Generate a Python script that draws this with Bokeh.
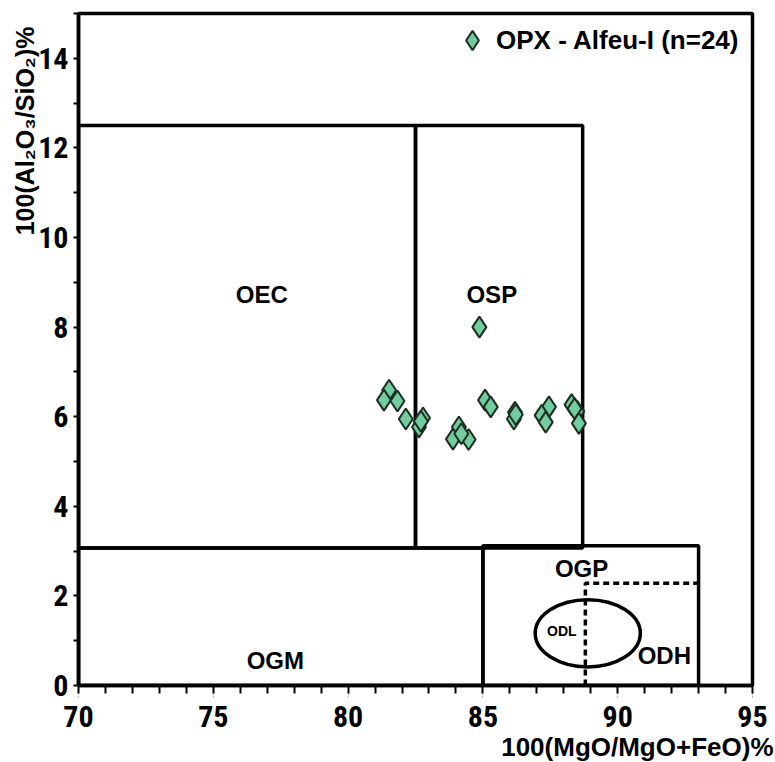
from bokeh.plotting import figure
from bokeh.models import (SingleIntervalTicker, Label, Legend, LegendItem, Range1d, Title)
from bokeh.embed import file_html
from bokeh.resources import INLINE

# ---- data ----
opx_mg = [81.52, 81.33, 81.83, 82.14, 82.78, 82.63, 82.70, 84.11, 83.89, 84.47,
          84.20, 84.87, 85.08, 85.29, 86.19, 86.15, 86.22, 87.45, 87.18, 87.33,
          88.29, 88.50, 88.40, 88.56]
opx_al = [6.59, 6.37, 6.35, 5.95, 5.97, 5.77, 5.90, 5.77, 5.50, 5.49,
          5.62, 8.00, 6.37, 6.22, 6.10, 5.95, 6.05, 6.22, 6.03, 5.88,
          6.27, 6.12, 6.18, 5.85]

# field boxes: OEC, OSP, OGM, OGP
box_left = [70.0, 82.5, 70.0, 85.0]
box_right = [82.5, 88.7, 85.0, 93.0]
box_bottom = [3.07, 3.07, 0.0, 0.0]
box_top = [12.5, 12.5, 3.07, 3.12]

# ODH dashed boundary
odh_x = [88.8, 88.8, 93.0]
odh_y = [0.0, 2.28, 2.28]

# ODL ellipse
odl_x = [88.89]
odl_y = [1.165]
odl_w = [3.9]
odl_h = [1.5]

field_names = ["OEC", "OSP", "OGM", "OGP", "ODH"]
field_x = [76.8, 85.33, 77.3, 88.66, 91.73]
field_y = [8.72, 8.72, 0.55, 2.62, 0.66]

x_ticks_interval = 5
y_ticks_interval = 2

p = figure(width=774, height=761, output_backend="svg", toolbar_location=None,
           x_range=Range1d(70, 95), y_range=Range1d(0, 15),
           min_border_left=78, min_border_right=22, min_border_top=13,
           min_border_bottom=76)
p.outline_line_color = "black"
p.outline_line_width = 3.5
p.outline_line_alpha = 1.0
p.xgrid.visible = False
p.ygrid.visible = False
p.background_fill_color = "white"

tick_font = "'Noto Sans Condensed', 'Liberation Sans Narrow', 'Roboto Condensed', 'Liberation Sans', sans-serif"

p.xaxis.ticker = SingleIntervalTicker(interval=x_ticks_interval, num_minor_ticks=5)
p.yaxis.ticker = SingleIntervalTicker(interval=y_ticks_interval, num_minor_ticks=2)
for ax in (p.xaxis, p.yaxis):
    ax.axis_line_color = "black"
    ax.axis_line_width = 3.5
    ax.major_tick_line_color = "#aaaaaa"
    ax.major_tick_line_width = 1
    ax.major_tick_line_dash = "2 1"
    ax.major_tick_in = 0
    ax.minor_tick_line_color = "black"
    ax.minor_tick_line_width = 2
    ax.minor_tick_in = 0
    ax.major_label_text_font = tick_font
    ax.major_label_text_font_style = "bold"
    ax.major_label_text_font_size = "30px"
    ax.major_label_text_color = "black"
p.xaxis.major_tick_out = 12
p.xaxis.minor_tick_out = 8
p.xaxis.major_label_standoff = 8
p.yaxis.major_tick_out = 5
p.yaxis.minor_tick_out = 5
p.yaxis.major_label_standoff = 5

# field boxes
p.quad(left=box_left, right=box_right, bottom=box_bottom, top=box_top,
       fill_color=None, line_color="black", line_width=3.5)
p.line(odh_x, odh_y, line_color="black", line_width=3.5, line_dash="6 4")
p.ellipse(x=odl_x, y=odl_y, width=odl_w, height=odl_h, fill_color=None,
          line_color="black", line_width=3.5)

for name, fx, fy in zip(field_names, field_x, field_y):
    p.add_layout(Label(x=fx, y=fy, text=name, text_align="center",
                       text_baseline="middle", text_font_size="24px",
                       text_font_style="bold", text_font="Liberation Sans",
                       text_color="black"))
p.add_layout(Label(x=87.93, y=1.21, text="ODL", text_align="center",
                   text_baseline="middle", text_font_size="14px",
                   text_font_style="bold", text_font="Liberation Sans",
                   text_color="black"))

# data
r = p.scatter(opx_mg, opx_al, marker="diamond", size=21,
              fill_color="#72cc9f", line_color="#1c2e22", line_width=2)

legend = Legend(items=[LegendItem(label="OPX - Alfeu-I (n=24)", renderers=[r])],
                location=(370, 621), glyph_width=48, glyph_height=48,
                label_standoff=0, padding=0, margin=0, spacing=0,
                border_line_color=None, background_fill_alpha=0,
                label_text_font_size="26px", label_text_font_style="bold",
                label_text_font="Liberation Sans", label_text_color="black")
p.add_layout(legend)

# axis titles
p.add_layout(Title(text="100(MgO/MgO+FeO)%", align="right", offset=-21, standoff=0,
                   text_font_size="26px", text_font_style="bold",
                   text_font="Liberation Sans", text_color="black"), "below")
p.add_layout(Title(text="100(Al\u2082O\u2083/SiO\u2082)%", align="right", offset=13,
                   standoff=-6, text_font_size="25px", text_font_style="bold",
                   text_font="Liberation Sans", text_color="black"), "left")

open("out.html", "w").write(file_html(p, INLINE))
